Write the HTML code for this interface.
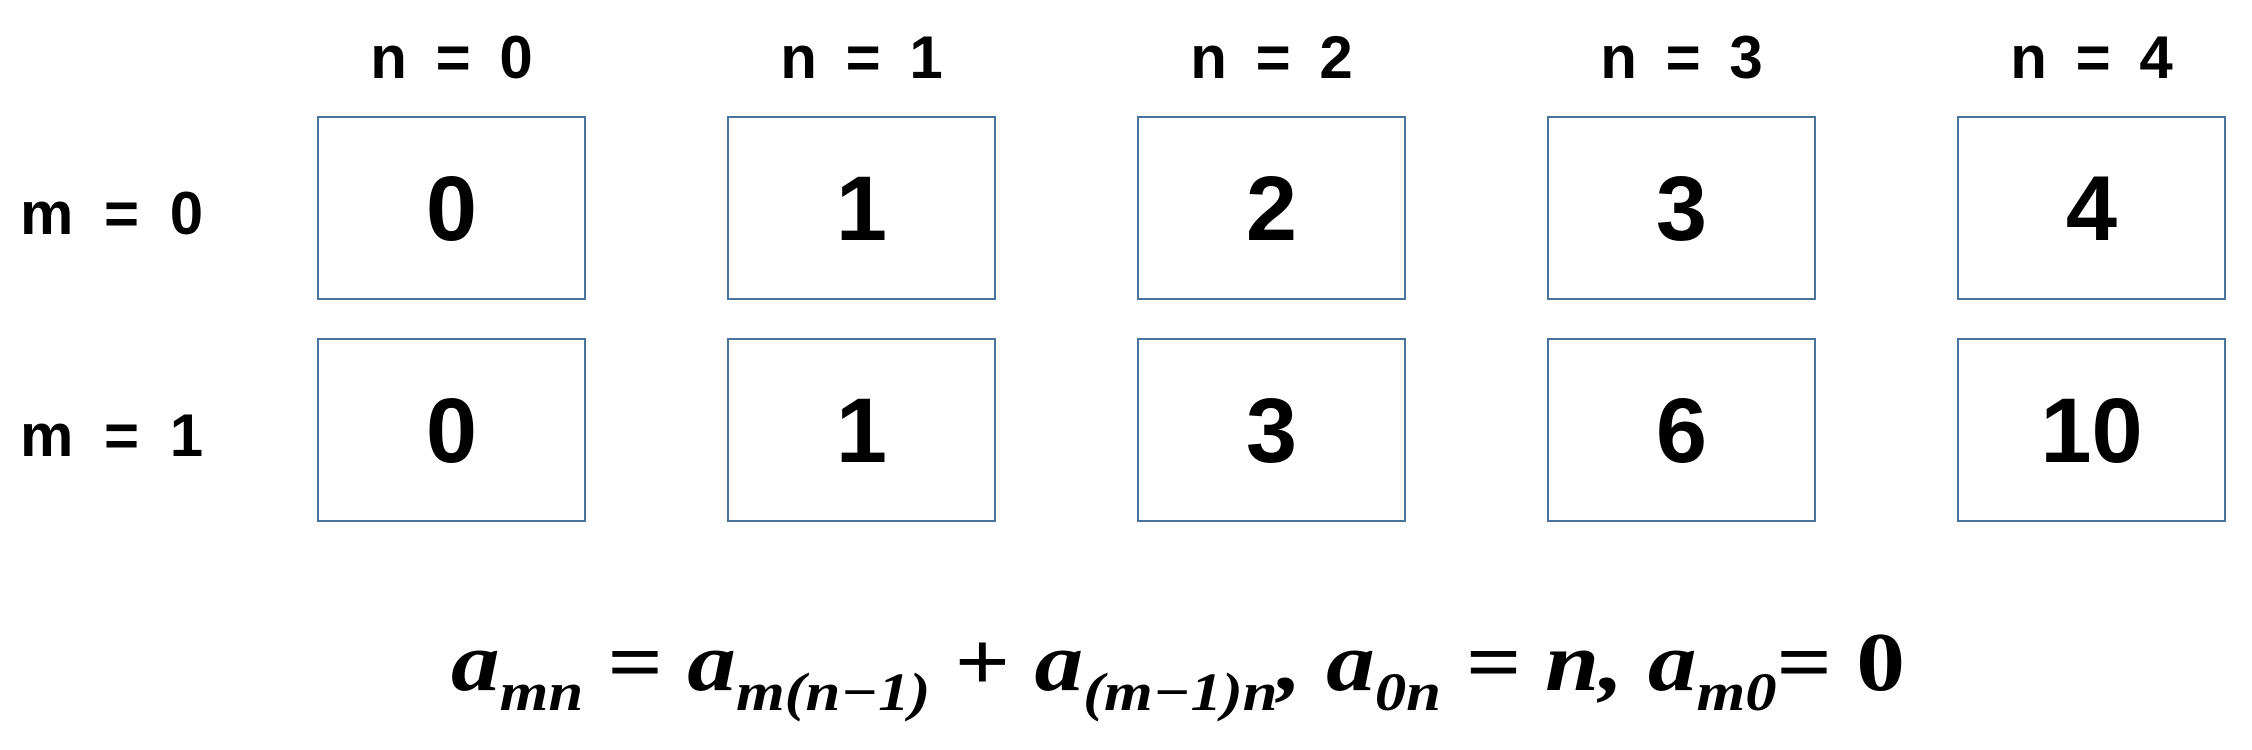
<!DOCTYPE html>
<html><head><meta charset="utf-8"><style>
html,body{margin:0;padding:0;background:#fff;}
body{width:2252px;height:750px;position:relative;overflow:hidden;font-family:"Liberation Sans Narrow","Liberation Sans",sans-serif;font-weight:bold;color:#000;}
.box{position:absolute;box-sizing:border-box;border:2.5px solid #4a73a0;background:#fff;}
.num{position:absolute;font-size:92px;line-height:1;text-align:center;}
.hdr{position:absolute;font-size:60px;line-height:1;text-align:center;white-space:pre;word-spacing:12px;}
.row{position:absolute;font-size:60px;line-height:1;white-space:pre;word-spacing:14px;}
</style></head><body>
<div id="grid"></div>
<svg width="2252" height="750" style="position:absolute;left:0;top:0">
<text x="451" y="690" textLength="1454" lengthAdjust="spacingAndGlyphs" font-family="Liberation Serif, serif" font-style="italic" font-weight="bold" font-size="84">a<tspan font-size="54" dy="20">mn</tspan><tspan dy="-20" font-style="normal"> = </tspan>a<tspan font-size="54" dy="20">m(n−1)</tspan><tspan dy="-20" font-style="normal"> + </tspan>a<tspan font-size="54" dy="20">(m−1)n</tspan><tspan dy="-20">, a</tspan><tspan font-size="54" dy="20">0n</tspan><tspan dy="-20"> = n, a</tspan><tspan font-size="54" dy="20">m0</tspan><tspan dy="-20" font-style="normal">= 0</tspan></text>
</svg>
<script>
const colLabels = ["n = 0","n = 1","n = 2","n = 3","n = 4"];
const rowLabels = ["m = 0","m = 1"];
const row0Values = [0,1,2,3,4];
const row1Values = [0,1,3,6,10];
const values = [row0Values,row1Values];
const g = document.getElementById('grid');
const colX = i => 317 + i*410;
const rowY = j => 116 + j*222;
const W = 269, H = 184;
colLabels.forEach((t,i)=>{
  const d=document.createElement('div');d.className='hdr';
  
  
  d.style.left=colX(i)+'px';d.style.width=W+'px';d.style.top='28px';d.textContent=t;g.appendChild(d);
});
rowLabels.forEach((t,j)=>{
  const d=document.createElement('div');d.className='row';
  
  
  d.style.left='20px';d.style.top=(rowY(j)+68)+'px';d.textContent=t;g.appendChild(d);
});
values.forEach((r,j)=>r.forEach((v,i)=>{
  const b=document.createElement('div');b.className='box';
  
  
  b.style.left=colX(i)+'px';b.style.top=rowY(j)+'px';b.style.width=W+'px';b.style.height=H+'px';
  const n=document.createElement('div');n.className='num';
  
  
  n.style.left='0';n.style.width='100%';n.style.top='45px';n.textContent=v;
  b.appendChild(n);g.appendChild(b);
}));
</script>
</body></html>
